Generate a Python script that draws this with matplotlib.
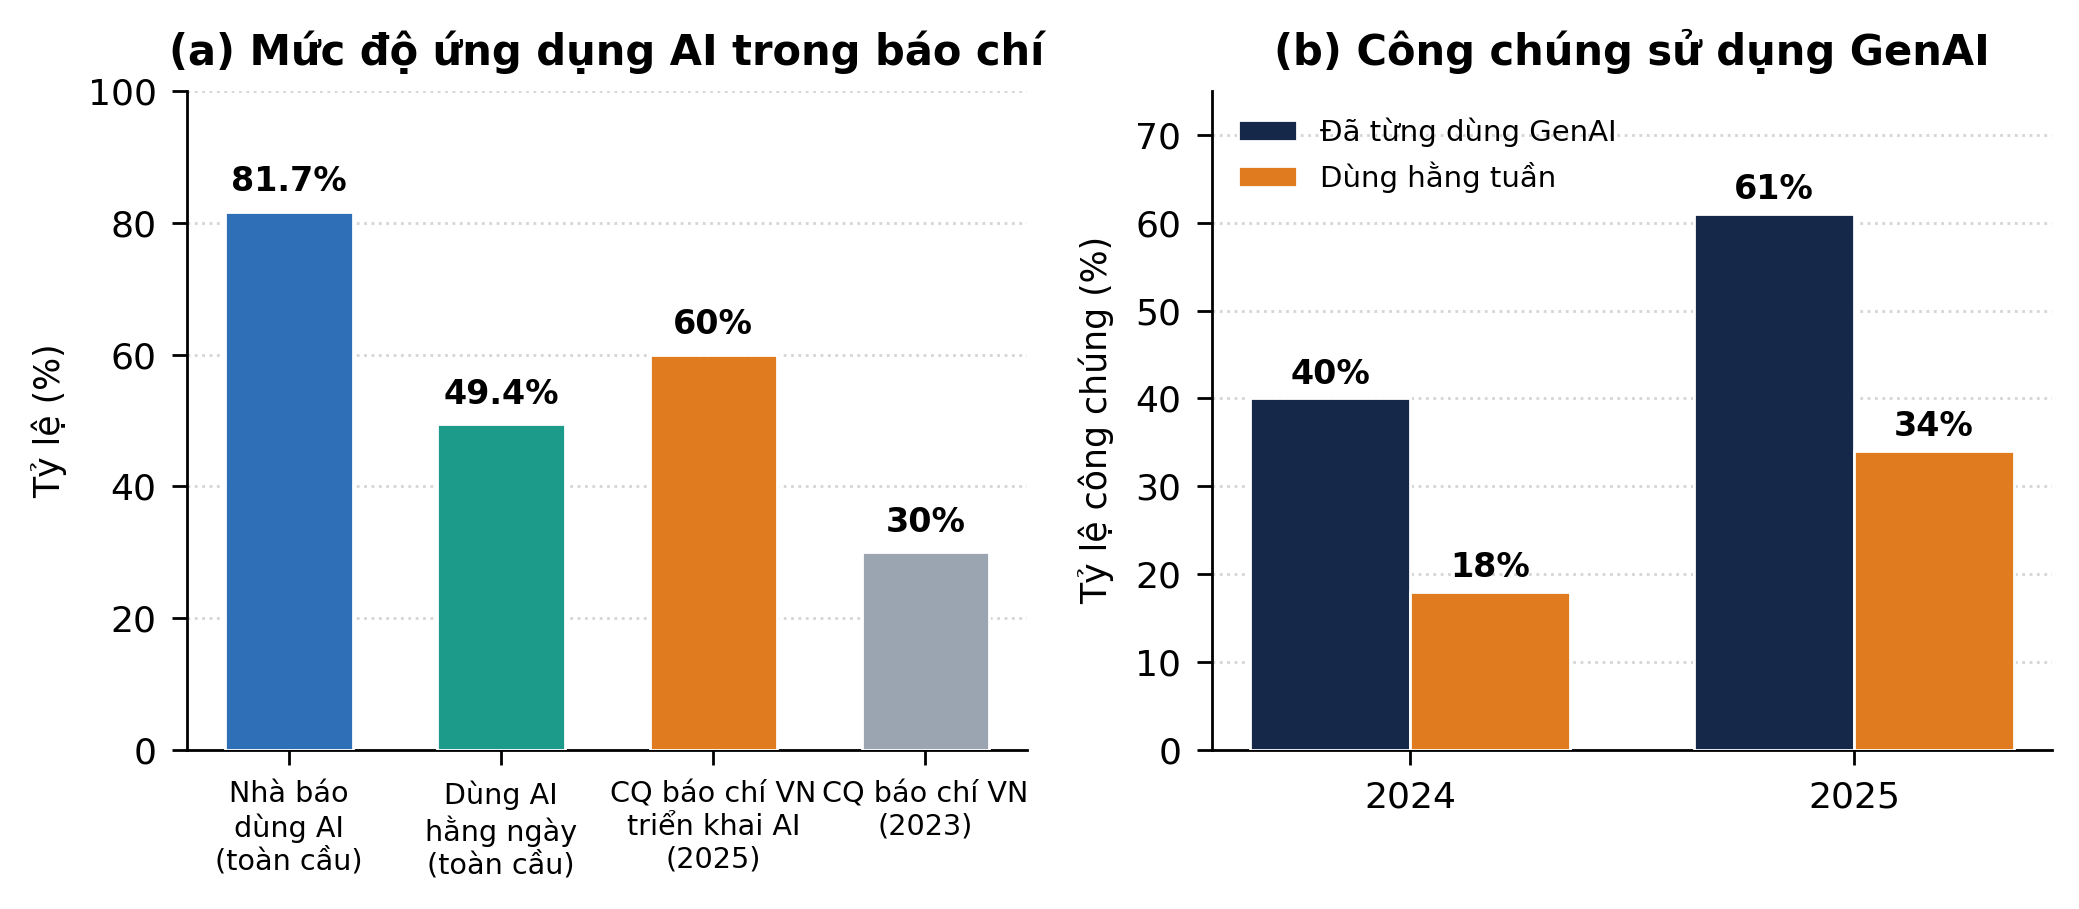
import matplotlib.pyplot as plt
import numpy as np

# dữ liệu panel (a)
cats_a = ["Nhà báo\ndùng AI\n(toàn cầu)", "Dùng AI\nhằng ngày\n(toàn cầu)",
          "CQ báo chí VN\ntriển khai AI\n(2025)", "CQ báo chí VN\n(2023)"]
vals_a = [81.7, 49.4, 60, 30]
labels_a = ["81.7%", "49.4%", "60%", "30%"]
colors_a = ["#2F6FB7", "#1C9A8A", "#E07B20", "#9BA5B1"]

# dữ liệu panel (b)
years = ["2024", "2025"]
ever_used = [40, 61]
weekly = [18, 34]
series_names = ["Đã từng dùng GenAI", "Dùng hằng tuần"]

navy = "#16284A"
orange = "#E07B20"

fig, (ax1, ax2) = plt.subplots(1, 2, figsize=(10.395, 4.545), dpi=200)
fig.subplots_adjust(left=0.09, right=0.987, top=0.9, bottom=0.175, wspace=0.22)

# (a)
x = np.arange(len(cats_a))
bars = ax1.bar(x, vals_a, width=0.6, color=colors_a, edgecolor="white", linewidth=1, zorder=3)
for b, t in zip(bars, labels_a):
    ax1.text(b.get_x() + b.get_width() / 2, b.get_height() + 2, t,
             ha="center", va="bottom", fontsize=12, fontweight="bold")
ax1.set_xticks(x)
ax1.set_xticklabels(cats_a, fontsize=10.3)
ax1.set_ylim(0, 100)
ax1.set_ylabel("Tỷ lệ (%)", fontsize=12.5, labelpad=7.5)
ax1.set_title("(a) Mức độ ứng dụng AI trong báo chí", fontsize=15, fontweight="bold", pad=9.5)

# (b)
xb = np.arange(len(years))
w = 0.36
b1 = ax2.bar(xb - w / 2, ever_used, width=w, color=navy, edgecolor="white", linewidth=1,
             label=series_names[0], zorder=3)
b2 = ax2.bar(xb + w / 2, weekly, width=w, color=orange, edgecolor="white", linewidth=1,
             label=series_names[1], zorder=3)
for bs in (b1, b2):
    for b in bs:
        ax2.text(b.get_x() + b.get_width() / 2, b.get_height() + 0.9, f"{b.get_height():.0f}%",
                 ha="center", va="bottom", fontsize=12, fontweight="bold")
ax2.set_xticks(xb)
ax2.set_xticklabels(years, fontsize=13)
ax2.set_ylim(0, 75)
ax2.set_ylabel("Tỷ lệ công chúng (%)", fontsize=12.5, labelpad=7.5)
ax2.set_title("(b) Công chúng sử dụng GenAI", fontsize=15, fontweight="bold", pad=9.5)
ax2.legend(loc="upper left", frameon=False, fontsize=10.5)

for ax in (ax1, ax2):
    ax.spines["top"].set_visible(False)
    ax.spines["right"].set_visible(False)
    ax.spines["left"].set_linewidth(1)
    ax.spines["bottom"].set_linewidth(1)
    ax.yaxis.grid(True, linestyle=":", color="#d5d5d5", linewidth=1, zorder=0)
    ax.set_axisbelow(True)
    ax.tick_params(length=5.5, width=1, pad=5.5)
    ax.tick_params(axis="y", labelsize=13)

fig.savefig("out.png", dpi=200)
